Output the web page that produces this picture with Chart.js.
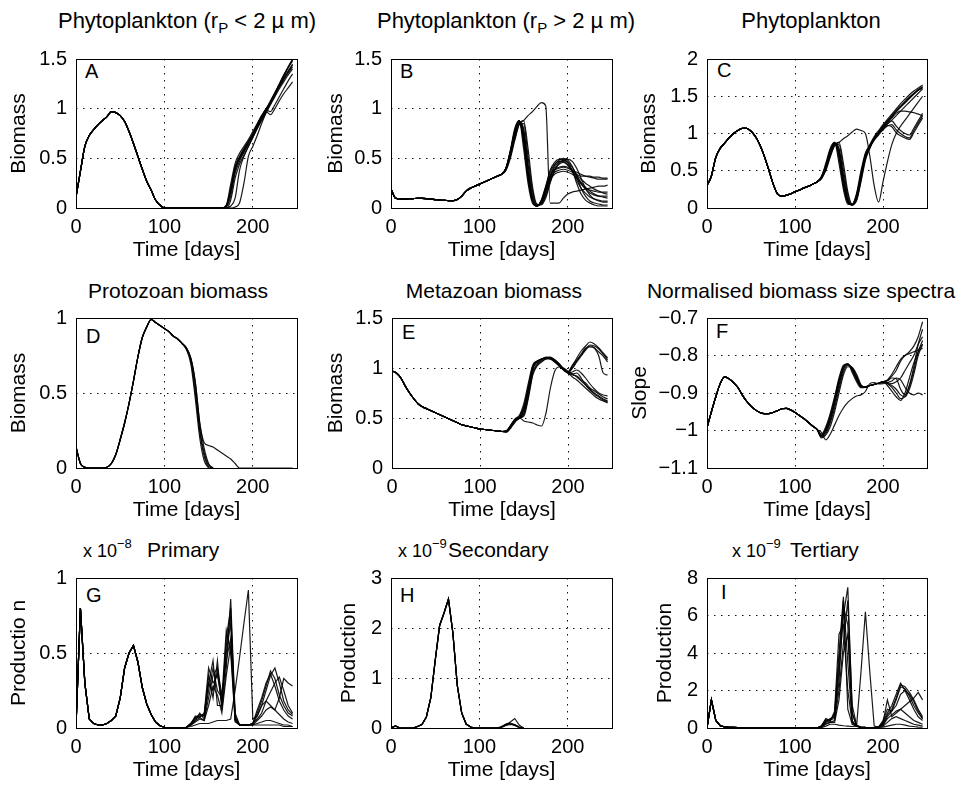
<!DOCTYPE html>
<html><head><meta charset="utf-8">
<script src="https://cdn.jsdelivr.net/npm/chart.js@4.4.1/dist/chart.umd.min.js"></script>
<style>
html,body{margin:0;padding:0;background:#fff;}
#wrap{position:relative;width:961px;height:786px;overflow:hidden;font-family:"Liberation Sans",Arial,Helvetica,sans-serif;color:#000;background:#fff;}
canvas{position:absolute;}
.t{position:absolute;font-size:21px;line-height:22px;white-space:nowrap;}
.big{font-size:22px;}
.c{transform:translateX(-50%);}
.lt{position:absolute;font-size:20px;line-height:20px;}
.ex{position:absolute;font-size:18px;line-height:18px;white-space:nowrap;}
sub{font-size:15px;vertical-align:-5px;line-height:0;}
sup{font-size:13px;vertical-align:9px;line-height:0;}
</style></head><body><div id="wrap">
<div class="t big c" style="left:187px;top:10px">Phytoplankton (r<sub>P</sub> &lt; 2 µ m)</div>
<div class="t big c" style="left:506px;top:10px">Phytoplankton (r<sub>P</sub> &gt; 2 µ m)</div>
<div class="t big c" style="left:811px;top:10px">Phytoplankton</div>
<div class="t c" style="left:178px;top:280px">Protozoan biomass</div>
<div class="t c" style="left:494px;top:280px">Metazoan biomass</div>
<div class="t c" style="left:801px;top:280px">Normalised biomass size spectra</div>
<div class="t" style="left:147px;top:539px">Primary</div>
<div class="t" style="left:448px;top:539px">Secondary</div>
<div class="t" style="left:790px;top:539px">Tertiary</div>
<div class="ex" style="left:83px;top:542px">x 10<sup>−8</sup></div>
<div class="ex" style="left:398px;top:542px">x 10<sup>−9</sup></div>
<div class="ex" style="left:732px;top:542px">x 10<sup>−9</sup></div>
<div class="lt" style="left:85px;top:61px">A</div>
<div class="lt" style="left:400px;top:61px">B</div>
<div class="lt" style="left:717px;top:60px">C</div>
<div class="lt" style="left:86px;top:326px">D</div>
<div class="lt" style="left:402px;top:322px">E</div>
<div class="lt" style="left:716px;top:321px">F</div>
<div class="lt" style="left:86px;top:585px">G</div>
<div class="lt" style="left:400px;top:585px">H</div>
<div class="lt" style="left:721px;top:582px">I</div>
</div>
<script>
// ---------- shared time axis ----------
const days = [0,5,10,15,20,25,30,35,40,45,50,55,60,65,70,75,80,85,90,95,100,105,110,115,120,125,130,135,140,145,150,155,160,165,170,175,180,185,190,195,200,205,210,215,220,225,230,235,240,245];
const xTicks = [0,100,200];
const xTickLabels = ['0','100','200'];

// ---------- A: Phytoplankton (rP < 2 um) ----------
const yTicksA = [0,0.5,1,1.5];
const yLabelsA = ['0','0.5','1','1.5'];
const baseA = [0.11,0.37,0.62,0.73,0.79,0.84,0.88,0.92,0.97,0.96,0.93,0.87,0.77,0.65,0.52,0.39,0.27,0.18,0.08,0.03,0,0,0,0,0,0,0,0,0,0,0,0,0,0];
const tailA1 = [0.02,0.20,0.42,0.52,0.60,0.67,0.74,0.82,0.90,0.98,1.06,1.15,1.24,1.33,1.42,1.50];
const tailA2 = [0.01,0.12,0.35,0.47,0.56,0.64,0.72,0.80,0.89,0.97,1.06,1.15,1.24,1.33,1.41,1.48];
const tailA3 = [0.03,0.24,0.45,0.55,0.62,0.69,0.77,0.85,0.93,1.00,1.07,1.14,1.22,1.29,1.36,1.42];
const tailA4 = [0.00,0.08,0.30,0.44,0.53,0.62,0.71,0.80,0.88,0.96,1.04,1.12,1.20,1.27,1.34,1.40];
const tailA5 = [0.02,0.16,0.38,0.49,0.57,0.66,0.74,0.83,0.92,0.99,0.97,1.04,1.12,1.20,1.28,1.35];
const tailA6 = [0.02,0.18,0.40,0.51,0.59,0.67,0.75,0.84,0.93,0.97,0.94,1.00,1.08,1.15,1.21,1.27];
const tailA7 = [0.00,0.00,0.01,0.05,0.25,0.52,0.62,0.73,0.85,0.96,1.05,1.13,1.22,1.30,1.37,1.44];
const tailA8 = [0.00,0.02,0.10,0.38,0.52,0.62,0.71,0.81,0.90,0.99,1.08,1.16,1.24,1.31,1.38,1.45];
const tailA9 = [0.02,0.17,0.39,0.50,0.58,0.66,0.74,0.83,0.91,0.99,1.07,1.16,1.25,1.34,1.42,1.49];

// ---------- B: Phytoplankton (rP > 2 um) ----------
const yTicksB = [0,0.5,1,1.5];
const yLabelsB = ['0','0.5','1','1.5'];
const baseB = [0.19,0.10,0.09,0.09,0.093,0.095,0.097,0.097,0.095,0.09,0.085,0.08,0.077,0.075,0.073,0.085,0.12,0.17,0.20,0.22,0.24,0.26,0.28,0.30,0.32,0.34];
const tailB1 = [0.40,0.58,0.80,0.88,0.60,0.25,0.05,0.02,0.08,0.22,0.38,0.46,0.49,0.49,0.46,0.38,0.25,0.14,0.08,0.05,0.03,0.02,0.02,0.02];
const tailB2 = [0.39,0.55,0.75,0.87,0.78,0.40,0.10,0.02,0.05,0.16,0.32,0.43,0.48,0.50,0.48,0.42,0.32,0.20,0.12,0.07,0.05,0.04,0.03,0.03];
const tailB3 = [0.38,0.50,0.68,0.84,0.88,0.60,0.22,0.04,0.03,0.10,0.25,0.38,0.45,0.48,0.49,0.47,0.40,0.30,0.20,0.13,0.09,0.07,0.06,0.06];
const tailB4 = [0.40,0.57,0.78,0.88,0.66,0.30,0.07,0.02,0.07,0.20,0.33,0.38,0.40,0.41,0.40,0.38,0.36,0.34,0.32,0.31,0.30,0.29,0.29,0.29];
const tailB5 = [0.40,0.56,0.76,0.87,0.72,0.35,0.08,0.02,0.06,0.18,0.30,0.36,0.38,0.39,0.38,0.36,0.33,0.29,0.25,0.22,0.19,0.17,0.15,0.14];
const tailB6 = [0.39,0.54,0.73,0.86,0.80,0.45,0.14,0.03,0.04,0.14,0.28,0.34,0.36,0.37,0.36,0.34,0.31,0.26,0.21,0.17,0.14,0.12,0.11,0.10];
const tailB7 = [0.38,0.52,0.71,0.85,0.85,0.52,0.18,0.03,0.04,0.12,0.26,0.38,0.44,0.46,0.43,0.38,0.34,0.32,0.32,0.32,0.31,0.31,0.30,0.30];
const tailB8 = [0.40,0.57,0.77,0.88,0.70,0.32,0.08,0.02,0.07,0.19,0.32,0.39,0.41,0.42,0.41,0.37,0.30,0.24,0.20,0.18,0.17,0.16,0.16,0.16];
const tailB9 = [0.39,0.55,0.75,0.87,0.75,0.38,0.10,0.02,0.06,0.17,0.31,0.41,0.46,0.48,0.46,0.41,0.33,0.25,0.19,0.15,0.13,0.12,0.12,0.12];
const tailB10 = [0.40,0.56,0.77,0.88,0.68,0.30,0.07,0.02,0.07,0.21,0.36,0.44,0.47,0.47,0.44,0.37,0.28,0.20,0.15,0.11,0.09,0.08,0.07,0.07];
const tailBout = [0.39,0.53,0.70,0.84,0.88,0.93,0.97,1.02,1.06,1.03,0.05,0.05,0.05,0.10,0.14,0.16,0.17,0.18,0.19,0.20,0.21,0.22,0.22,0.23];

// ---------- C: Phytoplankton (total) ----------
const yTicksC = [0,0.5,1,1.5,2];
const yLabelsC = ['0','0.5','1','1.5','2'];
const baseC = [0.30,0.43,0.68,0.80,0.87,0.94,1.00,1.04,1.07,1.07,1.03,0.96,0.85,0.70,0.52,0.33,0.19,0.16,0.17,0.19,0.22,0.24,0.27,0.29,0.32,0.35];
const tailC1 = [0.42,0.60,0.80,0.88,0.60,0.25,0.05,0.05,0.20,0.50,0.74,0.84,0.94,1.02,1.10,1.17,1.24,1.31,1.37,1.43,1.49,1.54,1.59,1.63];
const tailC2 = [0.41,0.55,0.75,0.87,0.78,0.40,0.10,0.04,0.14,0.42,0.70,0.82,0.93,1.01,1.09,1.16,1.22,1.29,1.35,1.41,1.47,1.53,1.58,1.62];
const tailC3 = [0.40,0.50,0.68,0.84,0.88,0.60,0.22,0.05,0.10,0.35,0.64,0.80,0.92,1.00,1.07,1.13,1.18,1.24,1.30,1.36,1.42,1.48,1.54,1.60];
const tailC4 = [0.42,0.57,0.78,0.88,0.66,0.30,0.07,0.05,0.18,0.46,0.72,0.82,0.91,0.98,1.05,1.10,1.12,1.05,1.00,0.96,0.94,1.04,1.14,1.24];
const tailC5 = [0.41,0.56,0.76,0.87,0.72,0.35,0.08,0.04,0.16,0.44,0.71,0.82,0.92,1.00,1.06,1.11,1.09,1.01,0.97,0.94,0.92,1.01,1.11,1.21];
const tailC6 = [0.40,0.54,0.73,0.86,0.80,0.45,0.14,0.04,0.12,0.40,0.67,0.81,0.92,1.00,1.07,1.13,1.17,1.10,1.04,1.00,0.98,1.07,1.17,1.27];
const tailC7 = [0.39,0.52,0.71,0.85,0.85,0.52,0.18,0.04,0.11,0.38,0.66,0.81,0.93,1.01,1.09,1.15,1.21,1.27,1.30,1.30,1.29,1.28,1.26,1.24];
const tailC8 = [0.42,0.57,0.77,0.88,0.70,0.32,0.08,0.05,0.17,0.45,0.72,0.85,0.96,1.04,1.12,1.19,1.26,1.33,1.40,1.46,1.52,1.57,1.61,1.65];
const tailC9 = [0.41,0.55,0.75,0.87,0.75,0.38,0.10,0.04,0.15,0.43,0.71,0.83,0.94,1.02,1.10,1.16,1.23,1.30,1.36,1.42,1.48,1.53,1.58,1.61];
const tailCout = [0.40,0.53,0.70,0.84,0.88,0.93,0.97,1.02,1.06,1.04,1.00,0.70,0.30,0.08,0.35,0.62,0.85,1.00,1.10,1.18,1.26,1.34,1.42,1.50];

// ---------- D: Protozoan biomass ----------
const yTicksD = [0,0.5,1];
const yLabelsD = ['0','0.5','1'];
const baseD = [0.14,0.03,0.005,0,0,0,0,0.005,0.03,0.09,0.19,0.30,0.43,0.58,0.74,0.87,0.94,0.99,0.97,0.95,0.93,0.91,0.88,0.86,0.83];
const tailD1 = [0.79,0.69,0.46,0.20,0.05,0.0];
const tailD2 = [0.79,0.71,0.50,0.24,0.08,0.01,0.0];
const tailD3 = [0.80,0.72,0.54,0.26,0.10,0.02,0.0];
const tailD4 = [0.80,0.73,0.57,0.30,0.13,0.03,0.0];
const tailDout = [0.80,0.73,0.57,0.30,0.17,0.15,0.14,0.12,0.10,0.08,0.06,0.03,0.0,0,0,0,0,0,0,0,0,0,0,0,0];

// ---------- E: Metazoan biomass ----------
const yTicksE = [0,0.5,1,1.5];
const yLabelsE = ['0','0.5','1','1.5'];
const baseE = [0.97,0.95,0.90,0.82,0.75,0.69,0.64,0.61,0.59,0.57,0.55,0.53,0.51,0.49,0.47,0.45,0.43,0.42,0.41,0.40,0.39,0.385,0.38,0.375,0.37,0.365];
const tailE1 = [0.37,0.42,0.48,0.50,0.58,0.78,1.00,1.06,1.09,1.11,1.11,1.08,1.04,0.99,0.96,1.02,1.10,1.17,1.22,1.26,1.24,1.20,1.15,1.10];
const tailE2 = [0.36,0.41,0.47,0.50,0.55,0.74,0.97,1.04,1.08,1.10,1.10,1.08,1.04,0.99,0.95,1.00,1.07,1.13,1.19,1.23,1.22,1.19,1.14,1.08];
const tailE3 = [0.37,0.43,0.49,0.52,0.62,0.82,1.02,1.07,1.09,1.10,1.09,1.06,1.02,0.98,0.96,1.03,1.08,1.14,1.20,1.21,1.20,1.16,1.12,1.06];
const tailE4 = [0.37,0.42,0.48,0.50,0.60,0.80,1.00,1.06,1.09,1.10,1.10,1.07,1.03,0.98,0.95,0.93,0.92,0.88,0.85,0.80,0.77,0.74,0.71,0.69];
const tailE5 = [0.36,0.41,0.47,0.50,0.54,0.72,0.95,1.03,1.07,1.09,1.09,1.07,1.03,0.99,0.95,0.91,0.88,0.84,0.80,0.76,0.72,0.69,0.67,0.65];
const tailE6 = [0.37,0.43,0.49,0.53,0.65,0.85,1.03,1.07,1.09,1.10,1.09,1.06,1.02,0.98,0.95,0.96,0.98,0.95,0.90,0.84,0.79,0.75,0.73,0.72];
const tailE7 = [0.36,0.40,0.46,0.50,0.52,0.70,0.93,1.02,1.06,1.09,1.10,1.08,1.04,0.99,0.95,0.94,0.95,0.90,0.83,0.78,0.74,0.71,0.68,0.66];
const tailE8 = [0.37,0.42,0.48,0.51,0.59,0.79,1.01,1.06,1.09,1.10,1.10,1.07,1.03,0.98,0.96,1.00,1.06,1.12,1.18,1.22,1.20,1.12,0.95,0.93];
const tailEout = [0.37,0.42,0.48,0.50,0.47,0.46,0.45,0.43,0.42,0.55,0.80,0.97,1.01,1.00,0.97,0.94,0.91,0.87,0.83,0.79,0.75,0.72,0.69,0.67];

// ---------- F: Normalised biomass size spectra slope ----------
const yTicksF = [-1.1,-1,-0.9,-0.8,-0.7];
const yLabelsF = ['−1.1','−1','−0.9','−0.8','−0.7'];
const baseF = [-0.993,-0.95,-0.91,-0.875,-0.857,-0.862,-0.872,-0.885,-0.905,-0.922,-0.935,-0.945,-0.952,-0.955,-0.955,-0.952,-0.947,-0.942,-0.941,-0.945,-0.952,-0.96,-0.968,-0.978,-0.988,-0.997];
const tailF1 = [-1.012,-0.995,-0.96,-0.915,-0.865,-0.83,-0.822,-0.84,-0.865,-0.883,-0.884,-0.88,-0.877,-0.874,-0.87,-0.875,-0.885,-0.90,-0.915,-0.91,-0.88,-0.84,-0.79,-0.76];
const tailF2 = [-1.015,-1.0,-0.97,-0.925,-0.875,-0.835,-0.823,-0.835,-0.86,-0.882,-0.884,-0.88,-0.877,-0.874,-0.87,-0.868,-0.86,-0.862,-0.89,-0.905,-0.88,-0.83,-0.77,-0.73];
const tailF3 = [-1.018,-1.008,-0.98,-0.94,-0.89,-0.845,-0.826,-0.832,-0.855,-0.88,-0.884,-0.88,-0.877,-0.874,-0.87,-0.865,-0.85,-0.83,-0.81,-0.80,-0.79,-0.775,-0.75,-0.71];
const tailF4 = [-1.01,-0.99,-0.955,-0.91,-0.86,-0.826,-0.822,-0.845,-0.87,-0.886,-0.885,-0.88,-0.877,-0.874,-0.87,-0.872,-0.875,-0.87,-0.86,-0.84,-0.82,-0.80,-0.77,-0.75];
const tailF5 = [-1.014,-0.997,-0.965,-0.92,-0.87,-0.832,-0.824,-0.838,-0.862,-0.884,-0.885,-0.88,-0.877,-0.874,-0.87,-0.88,-0.895,-0.91,-0.92,-0.90,-0.86,-0.82,-0.79,-0.78];
const tailF6 = [-1.02,-1.012,-0.99,-0.95,-0.90,-0.852,-0.83,-0.832,-0.85,-0.878,-0.884,-0.88,-0.877,-0.874,-0.87,-0.866,-0.855,-0.84,-0.815,-0.80,-0.795,-0.79,-0.785,-0.77];
const tailF7 = [-1.016,-1.003,-0.975,-0.93,-0.88,-0.838,-0.824,-0.836,-0.86,-0.882,-0.884,-0.88,-0.877,-0.874,-0.87,-0.874,-0.88,-0.89,-0.905,-0.91,-0.89,-0.85,-0.80,-0.77];
const tailFout = [-1.005,-1.025,-1.01,-0.985,-0.96,-0.94,-0.925,-0.915,-0.908,-0.905,-0.896,-0.875,-0.872,-0.876,-0.875,-0.872,-0.868,-0.86,-0.865,-0.885,-0.90,-0.905,-0.90,-0.905];

// ---------- G: Primary production (x1e-8) ----------
const yTicksG = [0,0.5,1];
const yLabelsG = ['0','0.5','1'];
const baseG = [0.01,0.80,0.30,0.06,0.03,0.02,0.02,0.03,0.05,0.08,0.20,0.40,0.50,0.55,0.44,0.27,0.16,0.09,0.04,0.015,0.005,0,0,0,0,0.005];
const tailG1 = [0.03,0.08,0.07,0.10,0.30,0.45,0.15,0.15,0.55,0.75,0.05,0.02,0.02,0.02,0.03,0.10,0.18,0.28,0.38,0.33,0.22,0.15,0.10,0.08];
const tailG2 = [0.03,0.07,0.09,0.08,0.35,0.20,0.45,0.12,0.40,0.86,0.10,0.02,0.02,0.02,0.03,0.08,0.15,0.25,0.35,0.40,0.30,0.18,0.12,0.09];
const tailG3 = [0.02,0.05,0.10,0.06,0.25,0.40,0.25,0.20,0.65,0.50,0.04,0.02,0.02,0.02,0.02,0.05,0.08,0.12,0.14,0.12,0.09,0.06,0.04,0.03];
const tailG4 = [0.03,0.06,0.08,0.09,0.40,0.30,0.35,0.18,0.50,0.70,0.06,0.02,0.02,0.02,0.03,0.12,0.20,0.30,0.36,0.28,0.18,0.12,0.08,0.06];
const tailG5 = [0.02,0.05,0.07,0.05,0.20,0.35,0.40,0.22,0.45,0.60,0.08,0.02,0.02,0.02,0.02,0.03,0.04,0.05,0.05,0.04,0.03,0.02,0.02,0.01];
const tailG6 = [0.03,0.07,0.08,0.08,0.30,0.25,0.38,0.15,0.60,0.80,0.07,0.02,0.02,0.02,0.03,0.06,0.10,0.18,0.24,0.30,0.34,0.25,0.15,0.10];
const tailG7 = [0.02,0.04,0.06,0.05,0.15,0.28,0.22,0.10,0.35,0.55,0.05,0.02,0.02,0.02,0.02,0.02,0.02,0.02,0.02,0.02,0.02,0.01,0.01,0.01];
const tailGout = [0.01,0.02,0.03,0.03,0.03,0.04,0.05,0.05,0.05,0.06,0.25,0.47,0.70,0.92,0.06,0.08,0.15,0.18,0.15,0.12,0.20,0.33,0.30,0.28];

// ---------- H: Secondary production (x1e-9) ----------
const yTicksH = [0,1,2,3];
const yLabelsH = ['0','1','2','3'];
const baseH = [0.0,0.04,0.0,0.0,0.0,0.0,0.03,0.07,0.22,0.60,1.35,2.05,2.30,2.58,1.90,0.85,0.30,0.08,0.02,0.0,0.0,0.0,0.0,0.0];
const tailH1 = [0.0,0.02,0.06,0.08,0.05,0.01,0.0];
const tailH2 = [0.0,0.03,0.08,0.10,0.07,0.02,0.0];
const tailH3 = [0.0,0.01,0.05,0.07,0.06,0.02,0.0];
const tailH4 = [0.0,0.02,0.07,0.09,0.06,0.01,0.0];
const tailHout = [0.0,0.02,0.07,0.12,0.19,0.06,0.0];

// ---------- I: Tertiary production (x1e-9) ----------
const yTicksI = [0,2,4,6,8];
const yLabelsI = ['0','2','4','6','8'];
const baseI = [0.0,1.5,0.4,0.12,0.06,0.04,0.03,0.02,0.01,0,0,0,0,0,0,0,0,0,0,0,0,0,0,0,0,0];
const tailI1 = [0.1,0.45,0.4,0.8,4.0,7.0,1.0,0.2,0.1,0.05,0.03,0.02,0.02,0.05,0.3,0.8,1.2,1.8,2.4,2.0,1.5,1.0,0.6,0.4];
const tailI2 = [0.1,0.35,0.5,0.6,3.0,6.0,7.5,0.8,0.1,0.05,0.03,0.02,0.02,0.05,0.2,0.6,0.9,1.5,2.2,2.1,1.7,1.2,0.8,0.5];
const tailI3 = [0.08,0.3,0.45,0.5,2.5,6.5,5.5,0.4,0.08,0.04,0.02,0.02,0.02,0.05,0.4,1.0,0.9,1.2,1.8,2.0,1.8,1.4,0.9,0.5];
const tailI4 = [0.1,0.4,0.35,0.9,5.0,5.5,2.0,0.3,0.1,0.04,0.02,0.02,0.02,0.04,0.15,0.5,0.7,0.9,1.0,0.8,0.6,0.4,0.3,0.2];
const tailI5 = [0.05,0.25,0.3,0.4,2.0,4.5,6.8,1.2,0.15,0.05,0.03,0.02,0.02,0.04,0.1,0.3,0.5,0.6,0.5,0.4,0.3,0.2,0.15,0.1];
const tailI6 = [0.1,0.5,0.4,0.7,3.5,6.8,3.5,0.3,0.1,0.05,0.03,0.02,0.02,0.05,0.25,0.7,1.0,1.6,2.3,2.2,1.9,1.5,1.0,0.6];
const tailI7 = [0.05,0.2,0.3,0.3,1.5,4.0,5.0,0.8,0.1,0.04,0.02,0.02,0.02,0.03,0.05,0.1,0.15,0.2,0.2,0.15,0.1,0.08,0.05,0.04];
const tailIout = [0.02,0.1,0.2,0.2,0.15,0.12,0.1,0.08,0.1,3.0,6.2,3.0,0.1,0.05,0.3,1.5,0.6,0.8,1.0,1.2,1.4,1.6,1.9,1.5];

// ---------- assembly ----------
const join = (base, tails) => tails.map(t => base.concat(t));
const FONT = '"Liberation Sans", Arial, Helvetica, sans-serif';
const XAXIS_H = 55;

const boxPlugin = {
  id: 'matlabBox',
  afterDraw(chart) {
    const {ctx, chartArea: a} = chart;
    ctx.save();
    ctx.setLineDash([]);
    ctx.strokeStyle = '#000';
    ctx.lineWidth = 1;
    const l = Math.round(a.left) + 0.5, t = Math.round(a.top) + 0.5;
    const w = Math.round(a.right) - Math.round(a.left), h = Math.round(a.bottom) - Math.round(a.top);
    ctx.strokeRect(l, t, w, h);
    ctx.restore();
  }
};

const panels = [
  {geo:{L:76,R:297,T:52,B:208,ytc:20}, yt:yTicksA, yl:yLabelsA, ytitle:'Biomass', smooth:true,
   lines: join(baseA,[tailA1,tailA2,tailA3,tailA4,tailA5,tailA6,tailA7,tailA8,tailA9])},
  {geo:{L:391,R:612,T:52,B:208,ytc:337}, yt:yTicksB, yl:yLabelsB, ytitle:'Biomass', smooth:true,
   lines: join(baseB,[tailB1,tailB2,tailB3,tailB4,tailB5,tailB6,tailB7,tailB8,tailB9,tailB10,tailBout])},
  {geo:{L:707,R:927,T:52,B:208,ytc:650}, yt:yTicksC, yl:yLabelsC, ytitle:'Biomass', smooth:true,
   lines: join(baseC,[tailC1,tailC2,tailC3,tailC4,tailC5,tailC6,tailC7,tailC8,tailC9,tailCout])},
  {geo:{L:76,R:297,T:311,B:468,ytc:20}, yt:yTicksD, yl:yLabelsD, ytitle:'Biomass', smooth:true,
   lines: join(baseD,[tailD1,tailD2,tailD3,tailD4,tailDout])},
  {geo:{L:392,R:612,T:311,B:468,ytc:337}, yt:yTicksE, yl:yLabelsE, ytitle:'Biomass', smooth:true,
   lines: join(baseE,[tailE1,tailE2,tailE3,tailE4,tailE5,tailE6,tailE7,tailE8,tailEout])},
  {geo:{L:707,R:927,T:311,B:468,ytc:641}, yt:yTicksF, yl:yLabelsF, ytitle:'Slope', smooth:true,
   lines: join(baseF,[tailF1,tailF2,tailF3,tailF4,tailF5,tailF6,tailF7,tailFout])},
  {geo:{L:76,R:297,T:571,B:728,ytc:20}, yt:yTicksG, yl:yLabelsG, ytitle:'Productio n', smooth:false,
   lines: join(baseG,[tailG1,tailG2,tailG3,tailG4,tailG5,tailG6,tailG7,tailGout])},
  {geo:{L:391,R:612,T:571,B:728,ytc:350}, yt:yTicksH, yl:yLabelsH, ytitle:'Production', smooth:false,
   lines: join(baseH,[tailH1,tailH2,tailH3,tailH4,tailHout])},
  {geo:{L:707,R:927,T:571,B:728,ytc:666}, yt:yTicksI, yl:yLabelsI, ytitle:'Production', smooth:false,
   lines: join(baseI,[tailI1,tailI2,tailI3,tailI4,tailI5,tailI6,tailI7,tailIout])}
];

function makeChart(p) {
  const g = p.geo;
  const cL = Math.round(g.ytc - 16.6), cT = g.T - 14;
  const cW = g.R + 10 - cL, cH = g.B + XAXIS_H - cT;
  const cv = document.createElement('canvas');
  cv.width = cW; cv.height = cH;
  cv.style.left = cL + 'px'; cv.style.top = cT + 'px';
  cv.style.width = cW + 'px'; cv.style.height = cH + 'px';
  document.getElementById('wrap').appendChild(cv);
  const gridOpts = {color:'#111', lineWidth:1, drawTicks:false};
  const borderOpts = {display:false, dash:[1.5,5.5]};
  new Chart(cv.getContext('2d'), {
    type: 'line',
    data: {datasets: p.lines.map(arr => ({
      data: arr.map((v, i) => ({x: days[i], y: v})),
      borderColor: 'rgba(0,0,0,0.9)', borderWidth: 1.2, pointRadius: 0, fill: false,
      tension: p.smooth ? 0.4 : 0, cubicInterpolationMode: p.smooth ? 'monotone' : 'default'
    }))},
    options: {
      responsive: false, animation: false, devicePixelRatio: 1, events: [],
      layout: {padding: {top: 14, right: 10, left: 0, bottom: 0}},
      plugins: {legend: {display: false}, tooltip: {enabled: false}},
      scales: {
        x: {type: 'linear', min: 0, max: 250,
            afterBuildTicks: s => { s.ticks = xTicks.map(v => ({value: v})); },
            afterFit: s => { s.height = XAXIS_H; },
            ticks: {callback: (v, i) => xTickLabels[i], color: '#000', font: {family: FONT, size: 20}, padding: 7, maxRotation: 0, autoSkip: false},
            grid: gridOpts, border: borderOpts,
            title: {display: true, text: 'Time [days]', color: '#000', font: {family: FONT, size: 21}, padding: {top: 0, bottom: 0}}},
        y: {type: 'linear', min: p.yt[0], max: p.yt[p.yt.length - 1],
            afterBuildTicks: s => { s.ticks = p.yt.map(v => ({value: v})); },
            afterFit: s => { s.width = g.L - cL; },
            ticks: {callback: (v, i) => p.yl[i], color: '#000', font: {family: FONT, size: 20}, padding: 9, autoSkip: false},
            grid: gridOpts, border: borderOpts,
            title: {display: true, text: p.ytitle, color: '#000', font: {family: FONT, size: 21}, padding: {top: 4, bottom: 0}}}
      }
    },
    plugins: [boxPlugin]
  });
}
panels.forEach(makeChart);
</script>
</body></html>
